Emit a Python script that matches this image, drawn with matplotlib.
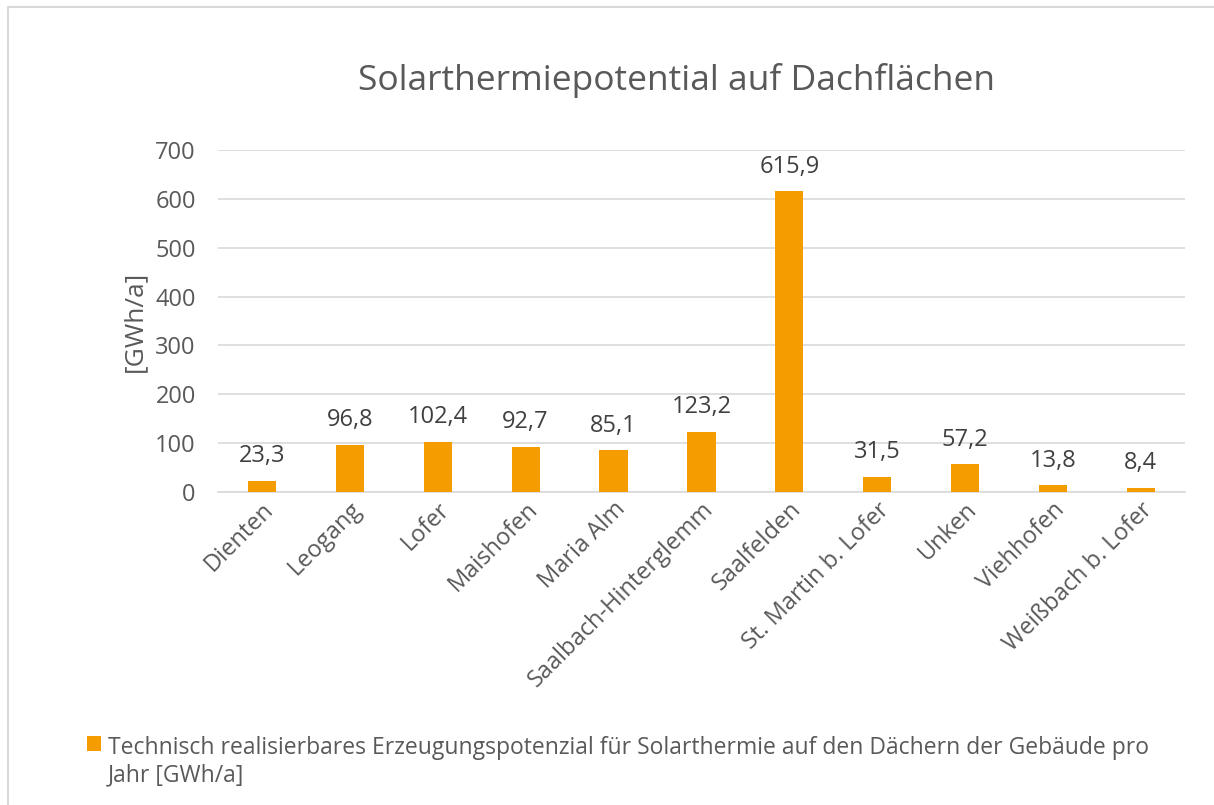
import matplotlib
matplotlib.use('Agg')
import matplotlib.pyplot as plt
from matplotlib.patches import Rectangle

plt.rcParams['font.family'] = ['Open Sans', 'DejaVu Sans']

gemeinden = ['Dienten', 'Leogang', 'Lofer', 'Maishofen', 'Maria Alm',
             'Saalbach-Hinterglemm', 'Saalfelden', 'St. Martin b. Lofer',
             'Unken', 'Viehhofen', 'Weißbach b. Lofer']
potenzial = [23.3, 96.8, 102.4, 92.7, 85.1, 123.2, 615.9, 31.5, 57.2, 13.8, 8.4]
legend_label = ('Technisch realisierbares Erzeugungspotenzial für Solarthermie auf den Dächern der Gebäude pro\n'
                'Jahr [GWh/a]')

TEXT = '#595959'
BAR = '#F59C00'
GRID = '#D9D9D9'

fig = plt.figure(figsize=(12.14, 8.05), dpi=100)
ax = fig.add_axes([0.1796, 0.3888, 0.7964, 0.4249])

x = range(len(gemeinden))
ax.bar(x, potenzial, width=0.32, color=BAR, label=legend_label, zorder=3)

# Datenbeschriftung mit Komma
for xi, v in zip(x, potenzial):
    ax.annotate(f'{v:.1f}'.replace('.', ','), (xi, v), xytext=(0, 9),
                textcoords='offset points', ha='center', va='bottom',
                fontsize=17, color='#404040')

ax.set_xlim(-0.5, len(gemeinden) - 0.5)
ax.set_ylim(0, 700)
ax.set_yticks(range(0, 701, 100))
ax.yaxis.grid(True, color=GRID, linewidth=1.2, zorder=0)
for s in ['top', 'right', 'left']:
    ax.spines[s].set_visible(False)
ax.spines['bottom'].set_color(GRID)
ax.spines['bottom'].set_linewidth(1.2)
ax.tick_params(axis='both', length=0, labelsize=17, labelcolor=TEXT)
ax.tick_params(axis='y', pad=16)
ax.tick_params(axis='x', pad=4)
ax.set_xticks(list(x))
ax.set_xticklabels(gemeinden, rotation=45, ha='right', rotation_mode='anchor')
ax.set_ylabel('[GWh/a]', fontsize=19, color=TEXT, labelpad=6)

fig.text(0.557, 0.9, 'Solarthermiepotential auf Dachflächen', ha='center', va='center',
         fontsize=25.5, color=TEXT)

leg = fig.legend(loc='upper left', bbox_to_anchor=(0.055, 0.111), frameon=False,
                 handlelength=0.6, handleheight=0.6, handletextpad=0.3,
                 fontsize=16.5, labelcolor=TEXT)
# Marker an der ersten Zeile ausrichten
for row in leg._legend_handle_box.get_children():
    for entry in row.get_children():
        entry.align = 'top'

# Rahmen (nur links/oben sichtbar, rechts/unten abgeschnitten)
fig.patches.append(Rectangle((8 / 1214, -0.1), 1.2, 1.1 - 7 / 805, transform=fig.transFigure,
                             fill=False, edgecolor='#D9D9D9', linewidth=1.5))

fig.savefig('out.png', dpi=100)
